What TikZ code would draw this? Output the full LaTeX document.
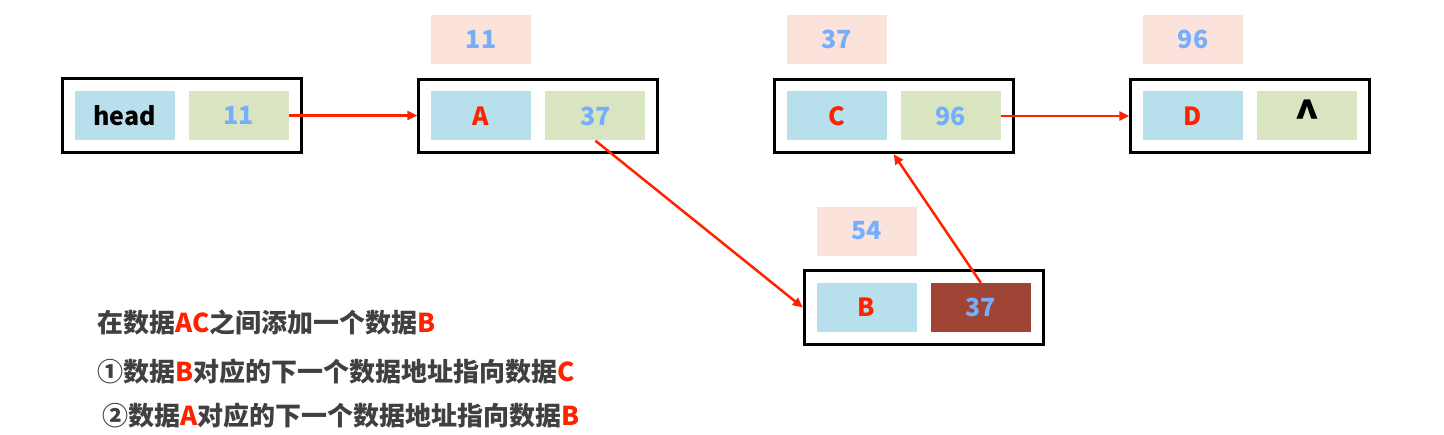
\documentclass[tikz,border=0pt]{standalone}
\usepackage{fontspec}
\setmainfont{Noto Sans CJK SC}
\usetikzlibrary{arrows.meta, positioning, fit}
\definecolor{cellblue}{HTML}{B8E0EC}
\definecolor{cellgreen}{HTML}{D9E5C1}
\definecolor{addrpink}{HTML}{FBE3DC}
\definecolor{cellbrick}{HTML}{A04535}
\definecolor{numblue}{HTML}{74AEFC}
\definecolor{markred}{HTML}{FF2200}
\definecolor{notegray}{HTML}{404040}

\begin{document}
\begin{tikzpicture}[
      x=1pt, y=-1pt,
      node distance = 14pt,
      cell/.style     = {minimum width=100pt, minimum height=49pt, inner sep=0pt,
                         font=\fontsize{25}{28}\selectfont\bfseries},
      datacell/.style = {cell, fill=cellblue, text=markred},
      ptrcell/.style  = {cell, fill=cellgreen, text=numblue},
      addr/.style     = {cell, fill=addrpink, text=numblue},
      nodebox/.style  = {draw, line width=3pt, inner sep=12pt},
      link/.style     = {-{Triangle[length=10pt, width=9pt]}, line width=2.5pt, markred},
      note/.style     = {anchor=west, inner sep=0pt, text=notegray,
                         font=\fontsize{26}{30}\selectfont\bfseries}
    ]
    \useasboundingbox (0,0) rectangle (1444,435);

    % ---- head node ----
    \node[datacell, text=black] (hdata) at (124.5,115.5) {head};
    \node[ptrcell, right=of hdata] (hnext) {11};
    \node[nodebox, fit=(hdata)(hnext)] (hbox) {};

    % ---- node A ----
    \node[datacell] (adata) at (481,116) {A};
    \node[ptrcell, right=of adata] (anext) {37};
    \node[nodebox, fit=(adata)(anext)] (abox) {};
    \node[addr, above=27pt of adata] (aaddr) {11};

    % ---- node C ----
    \node[datacell] (cdata) at (836.5,116) {C};
    \node[ptrcell, right=of cdata] (cnext) {96};
    \node[nodebox, fit=(cdata)(cnext)] (cbox) {};
    \node[addr, above=27pt of cdata] (caddr) {37};

    % ---- node D ----
    \node[datacell] (ddata) at (1193,116) {D};
    \node[ptrcell, text=black, right=of ddata] (dnext)
        {\raisebox{-0.45ex}{\scalebox{1.7}{\textasciicircum}}};
    \node[nodebox, fit=(ddata)(dnext)] (dbox) {};
    \node[addr, above=27pt of ddata] (daddr) {96};

    % ---- node B (inserted) ----
    \node[datacell] (bdata) at (866.5,307.5) {B};
    \node[ptrcell, fill=cellbrick, right=of bdata] (bnext) {37};
    \node[nodebox, fit=(bdata)(bnext)] (bbox) {};
    \node[addr, above=27pt of bdata] (baddr) {54};

    % ---- links ----
    \draw[link] (hnext.east) -- (hbox.east -| abox.west);
    \draw[link] (anext.south) -- (bbox.west);
    \draw[link] (bnext.north) -- (cbox.south);
    \draw[link] (cnext.east) -- (cnext.east -| dbox.west);

    % ---- notes ----
    \node[note] (note1) at (97,322)
        {在数据\textcolor{markred}{AC}之间添加一个数据\textcolor{markred}{B}};
    \node[note] (note2) at (97,372)
        {①数据\textcolor{markred}{B}对应的下一个数据地址指向数据\textcolor{markred}{C}};
    \node[note] (note3) at (102,416)
        {②数据\textcolor{markred}{A}对应的下一个数据地址指向数据\textcolor{markred}{B}};

  \end{tikzpicture}
\end{document}
